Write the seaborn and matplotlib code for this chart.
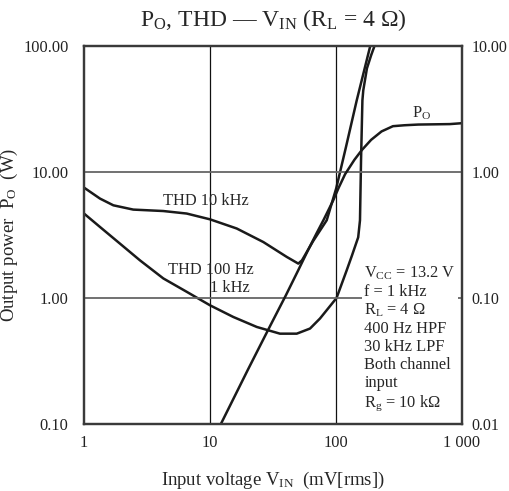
import numpy as np
import pandas as pd
import seaborn as sns
import matplotlib
matplotlib.use('Agg')
import matplotlib.pyplot as plt
from matplotlib.ticker import FixedLocator, FixedFormatter, NullLocator

# values
# output power (W) against input voltage (mV rms)
po_vin = [12.2, 20, 30, 40, 50, 60, 70, 80, 95, 105, 118, 140, 160, 190, 230, 283, 350, 450, 600, 800, 1000]
po_w = [0.10, 0.27, 0.60, 1.05, 1.65, 2.4, 3.25, 4.2, 5.95, 7.5, 9.6, 12.5, 14.9, 18.0, 21.0, 23.1, 23.5, 23.8, 23.9, 24.0, 24.4]

# THD (%) at 10 kHz
thd10k_vin = [1, 1.34, 1.71, 2.46, 4.26, 6.53, 10, 16.3, 26.5, 40.6, 50.2, 53.7, 65.7, 84.4, 100.4, 120, 146, 165, 186]
thd10k_pct = [0.752, 0.615, 0.544, 0.503, 0.490, 0.468, 0.421, 0.356, 0.278, 0.212, 0.1875, 0.199, 0.282, 0.414, 0.743, 1.58, 3.7, 6.05, 9.8]

# THD (%) at 100 Hz / 1 kHz
thd1k_vin = [1, 1.34, 1.93, 2.78, 4.26, 6.53, 10, 15.3, 23.5, 35.9, 48.8, 62.2, 74.6, 101, 121.6, 134, 150, 155, 158, 162, 164.6, 176, 190, 201]
thd1k_pct = [0.468, 0.366, 0.270, 0.199, 0.143, 0.112, 0.0875, 0.0707, 0.0589, 0.0521, 0.0521, 0.0572, 0.0687, 0.100, 0.166, 0.218, 0.303, 0.414, 1.24, 3.7, 4.45, 6.65, 8.44, 9.86]

x_ticks = [1, 10, 100, 1000]
x_labels = ['1', '10', '100', '1 000']
left_ticks = [0.1, 1, 10, 100]
left_labels = ['0.10', '1.00', '10.00', '100.00']
right_ticks = [0.01, 0.1, 1, 10]
right_labels = ['0.01', '0.10', '1.00', '10.00']

conditions = ('V$_\\mathrm{CC}$ = 13.2 V\nf = 1 kHz\nR$_\\mathrm{L}$ = 4 \u03a9\n400 Hz HPF\n'
              '30 kHz LPF\nBoth channel\ninput\nR$_\\mathrm{g}$ = 10 k\u03a9')

sns.set_style('white')
plt.rcParams['font.family'] = ['Liberation Serif', 'DejaVu Serif']
plt.rcParams['mathtext.fontset'] = 'custom'
plt.rcParams['mathtext.rm'] = 'Liberation Serif'
plt.rcParams['mathtext.it'] = 'Liberation Serif:italic'

ink = '#1a1a1a'
fs = 11.8

fig = plt.figure(figsize=(5.1, 4.91), dpi=100)
ax = fig.add_axes([0.1647, 0.1365, 0.7412, 0.7698])
ax2 = ax.twinx()

po = pd.DataFrame({'vin': po_vin, 'val': po_w})
t10 = pd.DataFrame({'vin': thd10k_vin, 'val': thd10k_pct})
t1 = pd.DataFrame({'vin': thd1k_vin, 'val': thd1k_pct})

sns.lineplot(data=po, x='vin', y='val', ax=ax, color=ink, lw=1.8, sort=False, estimator=None)
sns.lineplot(data=t10, x='vin', y='val', ax=ax2, color=ink, lw=1.8, sort=False, estimator=None)
sns.lineplot(data=t1, x='vin', y='val', ax=ax2, color=ink, lw=1.8, sort=False, estimator=None)

for a in (ax, ax2):
    a.set_xscale('log')
    a.set_yscale('log')
    a.set_xlim(1, 1000)
    a.yaxis.set_minor_locator(NullLocator())
    a.xaxis.set_minor_locator(NullLocator())
    a.tick_params(length=0, labelsize=fs, colors='#222222')
    for s in a.spines.values():
        s.set_color('#3a3a3a')
        s.set_linewidth(1.6)
ax.set_ylim(0.1, 100)
ax2.set_ylim(0.01, 10)

ax.xaxis.set_major_locator(FixedLocator(x_ticks))
ax.xaxis.set_major_formatter(FixedFormatter(x_labels))
ax.yaxis.set_major_locator(FixedLocator(left_ticks))
ax.yaxis.set_major_formatter(FixedFormatter(left_labels))
ax2.yaxis.set_major_locator(FixedLocator(right_ticks))
ax2.yaxis.set_major_formatter(FixedFormatter(right_labels))
ax.tick_params(axis='x', pad=8)
ax.tick_params(axis='y', pad=11)
ax2.tick_params(axis='y', pad=7, labelsize=11.5)
ax2.set_ylabel('')

# grid: vertical thin black, horizontal grey
for xv in [10, 100]:
    ax.axvline(xv, color='#111111', lw=0.9, zorder=0.5)
for yv in [1, 10]:
    ax.axhline(yv, color='#666666', lw=1.3, zorder=0.5)

ax.set_xlabel('Input voltage V$_\\mathrm{IN}$  (mV[rms])', fontsize=13.5)
ax.xaxis.set_label_coords(0.5, -0.122)
ax.set_ylabel('Output power  P$_\\mathrm{O}$  (W)', fontsize=13.5)
ax.yaxis.set_label_coords(-0.169, 0.5)
fig.text(273 / 510, 1 - 20 / 491, 'P$_\\mathrm{O}$, THD \u2014 V$_\\mathrm{IN}$ (R$_\\mathrm{L}$ = 4 \u03a9)',
         fontsize=17, ha='center', va='center')

ax.text(4.26, 5.9, 'THD 10 kHz', fontsize=fs, va='center', ha='left', zorder=5)
ax.text(4.6, 1.66, 'THD 100 Hz', fontsize=fs, va='center', ha='left', zorder=5)
ax.text(20.8, 1.19, '1 kHz', fontsize=fs, va='center', ha='right', zorder=5)
ax.text(479, 29, 'P$_\\mathrm{O}$', fontsize=fs, va='center', ha='center', zorder=5)
ax.text(168, 1.85, conditions, fontsize=fs, va='top', ha='left', linespacing=1.16,
        zorder=5, bbox=dict(facecolor='white', edgecolor='none', pad=1.5))

ax.set_zorder(ax2.get_zorder() + 1)
ax.patch.set_visible(False)

fig.savefig('out.png', dpi=100)
